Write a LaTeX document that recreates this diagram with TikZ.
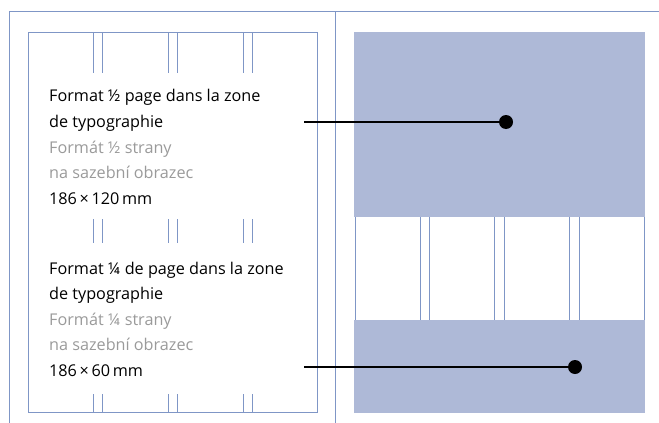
\documentclass[tikz,border=0pt]{standalone}
\usepackage{fontspec}
\setmainfont{Open Sans}
\definecolor{guide}{HTML}{7F96C6}
\definecolor{pagefill}{HTML}{AEB9D7}
\definecolor{subtext}{HTML}{9A9A9A}
\tikzset{
  guide/.style={draw=guide, line width=0.9pt},
  txt/.style={anchor=base west, inner sep=0pt, font=\fontsize{16.2}{19}\selectfont},
  dot/.style={circle, fill=black, inner sep=0pt, minimum size=14pt},
}
\begin{document}
\begin{tikzpicture}[x=1pt, y=-1pt]
            \useasboundingbox (0,0) rectangle (659,423);
            % spread
            \draw[guide] (9.5,423) -- (9.5,11) -- (659,11);
            \draw[guide] (335.5,11) -- (335.5,423);
            \draw[guide] (28,32) rectangle (317,412);
            % column guides, left page
            \foreach \x in {93.5,102.5,168,177,243,252} {
                \draw[guide] (\x,32) -- (\x,73);
                \draw[guide] (\x,219) -- (\x,243);
                \draw[guide] (\x,394) -- (\x,412);
            }
            % right page
            \fill[pagefill] (354,32) rectangle (645,217);
            \fill[pagefill] (354,320) rectangle (645,413);
            \draw[guide] (355,217) -- (355,320);
            \draw[guide] (644.5,217) -- (644.5,320);
            \foreach \x in {420,429.3,494.7,504.3,569.3,579} {
                \draw[guide] (\x,217) -- (\x,320);
            }

            % half page
            \node[txt] (h1) at (49,101) {Format ½ page dans la zone};
            \node[txt] (h2) at (49,127.5) {de typographie};
            \node[txt, subtext] (h3) at (49,153) {Formát ½ strany};
            \node[txt, subtext] (h4) at (49,178.5) {na sazební obrazec};
            \node[txt] (h5) at (49,204) {186\,×\,120\,mm};
            \coordinate (hs) at (304,122);
            \node[dot] (hd) at (506,122) {};
            \draw[line width=1.3pt] (hs) -- (hd);

            % quarter page
            \node[txt] (q1) at (49,274) {Format ¼ de page dans la zone};
            \node[txt] (q2) at (49,299.5) {de typographie};
            \node[txt, subtext] (q3) at (49,325) {Formát ¼ strany};
            \node[txt, subtext] (q4) at (49,350.5) {na sazební obrazec};
            \node[txt] (q5) at (49,376) {186\,×\,60\,mm};
            \coordinate (qs) at (304,367);
            \node[dot] (qd) at (575,367) {};
            \draw[line width=1.3pt] (qs) -- (qd);
\end{tikzpicture}
\end{document}
